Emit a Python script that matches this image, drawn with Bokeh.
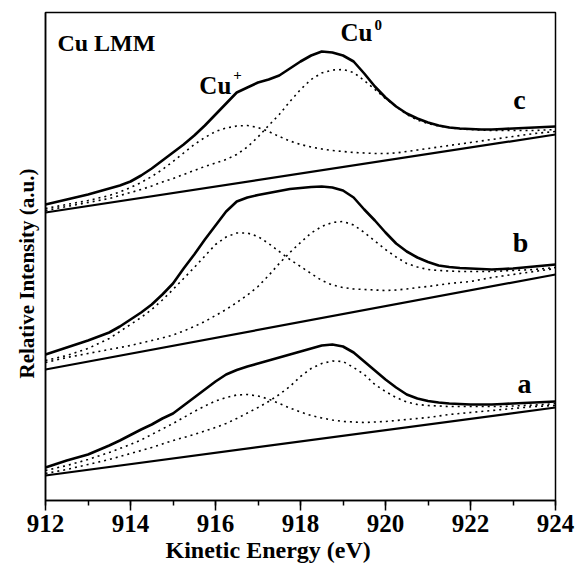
from bokeh.plotting import figure
from bokeh.models import Range1d, SingleIntervalTicker, FixedTicker, Label, Title
from bokeh.embed import file_html
from bokeh.resources import INLINE

# Kinetic energy grid (eV), 0.25 eV steps
energy = [912.0 + 0.25 * i for i in range(49)]
baseline_energy = [912.0, 924.0]

# Spectrum c (top)
env_c = [296, 298.5, 301, 303.5, 306, 309, 312, 315, 319, 325, 332, 340, 348, 356, 365, 375,
         386, 397, 408, 413, 418, 421, 425, 432, 439, 445, 449, 448, 445, 439, 427, 414,
         403, 394, 387, 382, 378, 375, 373, 372, 371.5, 371, 371, 371.5, 372, 372.5, 373,
         373.5, 374]
cu1_c = [292, 294, 296, 298, 300, 302.5, 305, 308.5, 313, 318, 324, 331, 339, 347.5, 356, 363,
         369, 372.5, 374.5, 375, 373, 369, 364, 359.5, 356, 353.5, 351.5, 350, 349, 348, 347.5,
         347, 347, 347.5, 349, 350.5, 352, 353.5, 355, 356.5, 358, 359.5, 361, 362.5, 364,
         365.5, 367, 368, 369]
cu0_c = [290, 292, 294, 296, 298, 300, 302, 305, 308, 311, 314.5, 318.5, 322, 326, 330, 334,
         337.5, 341, 346, 353.5, 363.5, 375, 386, 399, 411, 421, 427.5, 430.5, 431, 428, 420,
         411, 402, 394, 386, 380.5, 377, 374.5, 373, 371.5, 371, 370.5, 370, 370, 370, 370,
         370, 370.5, 371]
base_c = [288, 366]

# Spectrum b (middle)
env_b = [146, 149.5, 153, 156.5, 160, 164, 168, 174, 181, 188, 196, 206, 217, 232, 246, 261,
         275, 289, 299, 303, 305.5, 307.5, 309.5, 311.5, 312.5, 313.5, 314, 313, 310, 303, 291,
         280, 268, 257, 249, 243, 238.5, 235, 233.5, 232.5, 232, 231.5, 231, 231.5, 232, 233,
         234, 235, 236]
cu1_b = [140, 142.5, 145, 148.5, 152, 157, 162, 169, 176, 183, 191, 200.5, 211, 222, 233, 244.5,
         256, 263.5, 267.5, 267.5, 264, 257, 249, 241, 234, 227, 220, 215.5, 213, 211.5, 211,
         210.5, 210, 210.5, 211.5, 213, 214, 215.5, 217, 218, 219, 221, 223, 224.5, 226, 227.5,
         229, 230.5, 232]
cu0_b = [138, 140.5, 143, 145, 147, 149, 151, 153, 155, 157.5, 160, 162.5, 165.5, 169.5, 174,
         179, 185, 191, 198, 205.5, 214, 225, 237, 248, 258, 267.5, 274, 278, 279, 275.5, 268,
         259.5, 251, 243.5, 237, 233.5, 231, 230, 229.5, 229, 229, 229, 229, 229.5, 230, 230.5,
         231, 232, 233]
base_b = [131, 226]

# Spectrum a (bottom)
env_a = [33, 36.5, 40, 43, 46, 50.5, 55, 60, 65.5, 71, 76, 82, 87, 95, 103, 111, 119, 126,
         130.5, 134, 137, 140, 143, 146, 149, 152, 155, 156, 154, 148, 139, 130, 121, 113, 106,
         102, 99.5, 98, 97, 96.5, 96, 96, 96, 96.5, 97, 97.5, 98, 98.5, 99]
cu1_a = [30, 32.5, 35, 38, 41, 44.5, 48, 52, 56, 60.5, 66, 71.5, 77, 83, 89, 94.5, 99.5, 103,
         105.5, 106, 104.5, 101.5, 97, 92.5, 88.5, 85, 82.5, 80.5, 79, 78.5, 78, 78.5, 79, 80,
         81, 82, 83, 84.5, 86, 87, 88, 89, 90, 91, 92, 93, 94, 94.5, 95]
cu0_a = [27, 29, 31, 33.5, 36, 38.5, 41, 44, 47, 50, 53, 56.5, 60, 63, 66, 69.5, 73, 77, 82,
         87.5, 93, 99, 106, 114, 124, 132, 137, 139.5, 139, 133, 126, 116, 109, 103, 98.5, 96,
         95, 94.5, 94, 94, 94, 94, 94, 94, 94.5, 95, 95.5, 96, 97]
base_a = [25, 93]

FONT = "Liberation Serif"

p = figure(width=576, height=576, x_range=Range1d(912, 924), y_range=Range1d(0, 488),
           output_backend="svg", toolbar_location=None,
           min_border_left=45, min_border_right=21, min_border_top=12, min_border_bottom=76,
           background_fill_color="white", border_fill_color="white")
p.xgrid.visible = False
p.ygrid.visible = False
p.outline_line_color = "black"
p.outline_line_width = 1.5
p.outline_line_alpha = 1.0

p.xaxis.ticker = SingleIntervalTicker(interval=2, num_minor_ticks=2)
p.xaxis.major_tick_in = 0
p.xaxis.major_tick_out = 10
p.xaxis.minor_tick_in = 0
p.xaxis.minor_tick_out = 5
p.xaxis.axis_line_width = 1.5
p.xaxis.major_tick_line_width = 1.5
p.xaxis.minor_tick_line_width = 1.5
p.xaxis.major_label_text_font = FONT
p.xaxis.major_label_text_font_style = "bold"
p.xaxis.major_label_text_font_size = "25px"
p.xaxis.major_label_text_color = "black"
p.xaxis.major_label_standoff = 4

p.yaxis.ticker = FixedTicker(ticks=[])
p.yaxis.axis_line_width = 1.5

for env, c1, c0, base in [(env_c, cu1_c, cu0_c, base_c),
                          (env_b, cu1_b, cu0_b, base_b),
                          (env_a, cu1_a, cu0_a, base_a)]:
    p.line(baseline_energy, base, line_color="black", line_width=2.2)
    p.line(energy, c1, line_color="black", line_width=1.6, line_dash="2 4")
    p.line(energy, c0, line_color="black", line_width=1.6, line_dash="2 4")
    p.line(energy, env, line_color="black", line_width=2.6)

def lab(x, y, text, size, align="left"):
    p.add_layout(Label(x=x, y=y, text=text, text_font=FONT, text_font_style="bold",
                       text_font_size=size, text_color="black", text_align=align,
                       text_baseline="alphabetic"))

lab(912.28, 458, "Cu LMM", "24px")
lab(915.62, 415, "Cu", "25px")
lab(916.42, 426, "+", "15px")
lab(918.94, 468, "Cu", "25px")
lab(919.74, 476, "0", "15px")
lab(923.15, 401, "c", "28px", "center")
lab(923.18, 258, "b", "28px", "center")
lab(923.27, 117, "a", "28px", "center")

# axis titles
p.add_layout(Title(text="Kinetic Energy (eV)", align="left", offset=120, standoff=0,
                   text_font=FONT, text_font_style="bold", text_font_size="24px",
                   text_color="black"), "below")
p.add_layout(Title(text="Relative Intensity (a.u.)", align="left", offset=122, standoff=14,
                   text_font=FONT, text_font_style="bold", text_font_size="21px",
                   text_color="black"), "left")

open("out.html", "w").write(file_html(p, INLINE))
